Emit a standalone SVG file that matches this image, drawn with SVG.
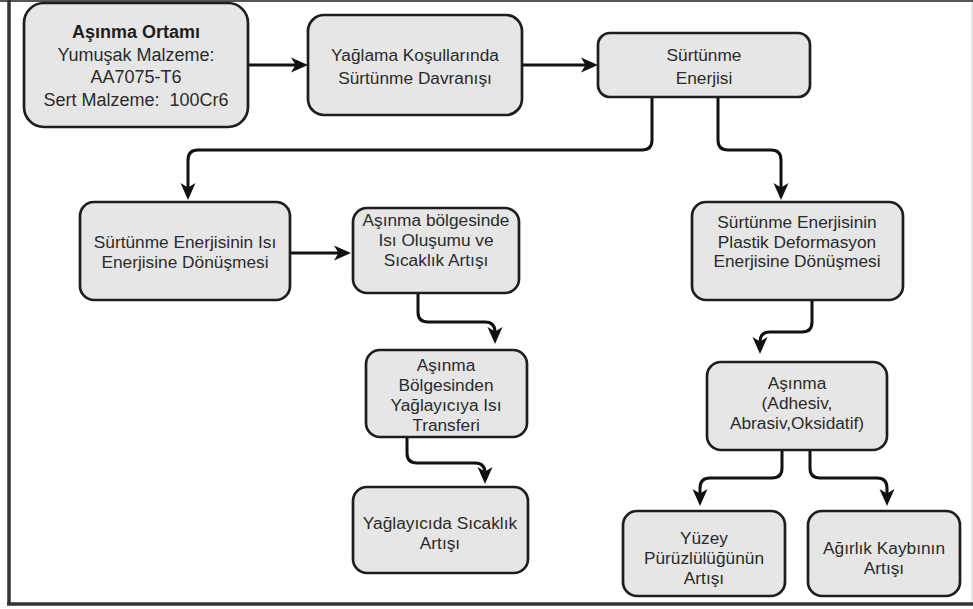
<svg xmlns="http://www.w3.org/2000/svg" width="973" height="609" viewBox="0 0 973 609">
<defs>
<marker id="ah" markerUnits="userSpaceOnUse" markerWidth="18" markerHeight="18" viewBox="0 0 18 18" refX="7" refY="9" orient="auto">
<path d="M0,1.5 L17,9 L0,16.5 L4.5,9 Z" fill="#111"/>
</marker>
<style>
.box{fill:#e6e6e6;stroke:#1e1e1e;stroke-width:2.7}
.t{font-family:"Liberation Sans",Arial,Helvetica,sans-serif;font-size:17.3px;fill:#2b2b2b;text-anchor:middle}
.t1{font-size:18px}
.b{font-weight:bold;fill:#1e1e1e}
.c{fill:none;stroke:#111;stroke-width:3;marker-end:url(#ah)}
</style>
</defs>
<rect width="973" height="609" fill="#fff"/>
<g id="frame" fill="none">
<line x1="0" y1="1" x2="973" y2="1" stroke="#555" stroke-width="2"/>
<line x1="9" y1="0" x2="9" y2="605" stroke="#333" stroke-width="3.5"/>
<line x1="7" y1="604" x2="973" y2="604" stroke="#333" stroke-width="3.5"/>
<line x1="972" y1="2" x2="972" y2="602" stroke="#ccc" stroke-width="1"/>
</g>
<g id="connectors">
<path class="c" d="M248,65 H298"/>
<path class="c" d="M522,65 H588"/>
<path class="c" d="M652,97 V140 Q652,150 642,150 H198 Q188,150 188,160 V190"/>
<path class="c" d="M718,97 V140 Q718,150 728,150 H771 Q781,150 781,160 V190"/>
<path class="c" d="M290,253 H341"/>
<path class="c" d="M418,293 V312 Q418,322 428,322 H485 Q495,322 495,332 V334"/>
<path class="c" d="M407,437 V453 Q407,463 417,463 H475 Q485,463 485,473 V474"/>
<path class="c" d="M812,300 V322 Q812,332 802,332 H770 Q760,332 760,342 V344"/>
<path class="c" d="M782,450 V468 Q782,478 772,478 H710 Q700,478 700,488 V496"/>
<path class="c" d="M810,450 V468 Q810,478 820,478 H877 Q887,478 887,488 V496"/>
</g>
<g id="n1">
<rect class="box" x="24" y="3" width="224" height="124" rx="20"/>
<text class="t t1 b" x="136" y="38">Aşınma Ortamı</text>
<text class="t t1" x="136" y="61">Yumuşak Malzeme:</text>
<text class="t t1" x="136" y="83">AA7075-T6</text>
<text class="t t1" x="136" y="106" xml:space="preserve">Sert Malzeme:  100Cr6</text>
</g>
<g id="n2">
<rect class="box" x="308" y="15" width="214" height="100" rx="16"/>
<text class="t" x="415" y="61">Yağlama Koşullarında</text>
<text class="t" x="415" y="84">Sürtünme Davranışı</text>
</g>
<g id="n3">
<rect class="box" x="598" y="33" width="212" height="64" rx="12"/>
<text class="t" x="704" y="61">Sürtünme</text>
<text class="t" x="704" y="84">Enerjisi</text>
</g>
<g id="n4">
<rect class="box" x="80" y="202" width="210" height="98" rx="14"/>
<text class="t" x="185" y="248">Sürtünme Enerjisinin Isı</text>
<text class="t" x="185" y="268">Enerjisine Dönüşmesi</text>
</g>
<g id="n5">
<rect class="box" x="353" y="208" width="166" height="85" rx="14"/>
<text class="t" x="436" y="226">Aşınma bölgesinde</text>
<text class="t" x="436" y="246">Isı Oluşumu ve</text>
<text class="t" x="436" y="266">Sıcaklık Artışı</text>
</g>
<g id="n6">
<rect class="box" x="692" y="202" width="211" height="98" rx="14"/>
<text class="t" x="797" y="228">Sürtünme Enerjisinin</text>
<text class="t" x="797" y="248">Plastik Deformasyon</text>
<text class="t" x="797" y="267">Enerjisine Dönüşmesi</text>
</g>
<g id="n7">
<rect class="box" x="707" y="362" width="180" height="88" rx="14"/>
<text class="t" x="797" y="389">Aşınma</text>
<text class="t" x="797" y="409">(Adhesiv,</text>
<text class="t" x="797" y="429">Abrasiv,Oksidatif)</text>
</g>
<g id="n8">
<rect class="box" x="623" y="511" width="162" height="85" rx="14"/>
<text class="t" x="704" y="544">Yüzey</text>
<text class="t" x="704" y="564">Pürüzlülüğünün</text>
<text class="t" x="704" y="584">Artışı</text>
</g>
<g id="n9">
<rect class="box" x="808" y="511" width="152" height="85" rx="14"/>
<text class="t" x="884" y="554">Ağırlık Kaybının</text>
<text class="t" x="884" y="574">Artışı</text>
</g>
<g id="n10">
<rect class="box" x="366" y="350" width="161" height="87" rx="14"/>
<text class="t" x="446" y="371">Aşınma</text>
<text class="t" x="446" y="391">Bölgesinden</text>
<text class="t" x="446" y="411">Yağlayıcıya Isı</text>
<text class="t" x="446" y="431">Transferi</text>
</g>
<g id="n11">
<rect class="box" x="353" y="487" width="175" height="86" rx="14"/>
<text class="t" x="440" y="529">Yağlayıcıda Sıcaklık</text>
<text class="t" x="440" y="549">Artışı</text>
</g>
</svg>
